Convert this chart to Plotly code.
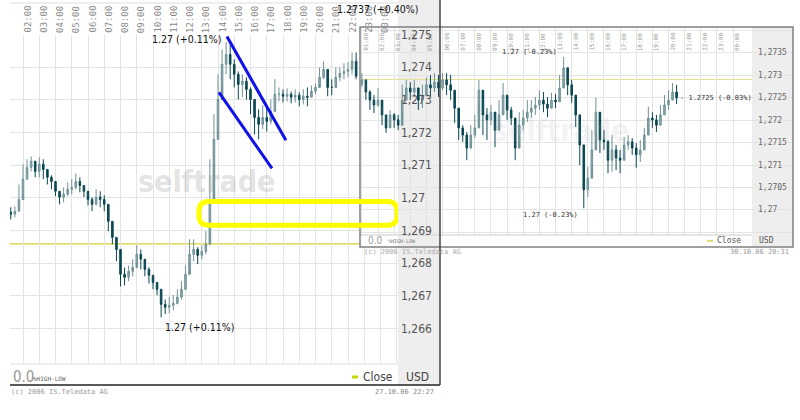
import plotly.graph_objects as go

# ---------------- left chart : EUR/USD 27.10.06 (15-min bars) ----------------
left_first_hour = 1.25
bar_step = 0.25
left_close = [1.26950, 1.26959, 1.26995, 1.27057, 1.27093, 1.27112, 1.27081, 1.27103, 1.27087, 1.27063,
              1.27050, 1.27020, 1.27002, 1.27011, 1.27026, 1.27032, 1.27050, 1.27038, 1.27020, 1.26995,
              1.26980, 1.27002, 1.26995, 1.26980, 1.26928, 1.26879, 1.26842, 1.26766, 1.26757, 1.26775,
              1.26787, 1.26827, 1.26812, 1.26781, 1.26763, 1.26741, 1.26720, 1.26674, 1.26665, 1.26671,
              1.26677, 1.26696, 1.26720, 1.26766, 1.26827, 1.26842, 1.26824, 1.26836, 1.26858, 1.26995,
              1.27179, 1.27301, 1.27409, 1.27439, 1.27409, 1.27378, 1.27347, 1.27357, 1.27332, 1.27301,
              1.27246, 1.27225, 1.27246, 1.27234, 1.27265, 1.27317, 1.27317, 1.27311, 1.27317, 1.27308,
              1.27314, 1.27301, 1.27311, 1.27308, 1.27326, 1.27338, 1.27369, 1.27393, 1.27338, 1.27338,
              1.27369, 1.27381, 1.27387, 1.27393, 1.27418, 1.27372]
left_high = [1.26971, 1.26974, 1.27041, 1.27103, 1.27118, 1.27127, 1.27099, 1.27124, 1.27118, 1.27087,
             1.27069, 1.27038, 1.27020, 1.27032, 1.27047, 1.27057, 1.27075, 1.27063, 1.27038, 1.27014,
             1.27002, 1.27026, 1.27020, 1.27008, 1.26971, 1.26910, 1.26879, 1.26806, 1.26787, 1.26793,
             1.26812, 1.26855, 1.26842, 1.26800, 1.26787, 1.26763, 1.26738, 1.26702, 1.26689, 1.26696,
             1.26702, 1.26720, 1.26745, 1.26793, 1.26873, 1.26873, 1.26849, 1.26855, 1.26898, 1.27118,
             1.27256, 1.27378, 1.27454, 1.27476, 1.27470, 1.27424, 1.27387, 1.27378, 1.27369, 1.27338,
             1.27286, 1.27271, 1.27283, 1.27277, 1.27301, 1.27363, 1.27338, 1.27332, 1.27335, 1.27326,
             1.27332, 1.27323, 1.27332, 1.27338, 1.27344, 1.27350, 1.27399, 1.27418, 1.27357, 1.27363,
             1.27399, 1.27399, 1.27412, 1.27415, 1.27445, 1.27445]
left_low = [1.26934, 1.26940, 1.26959, 1.27011, 1.27057, 1.27081, 1.27063, 1.27063, 1.27057, 1.27041,
            1.27026, 1.27005, 1.26980, 1.26986, 1.27005, 1.27011, 1.27026, 1.27017, 1.27002, 1.26977,
            1.26959, 1.26977, 1.26971, 1.26959, 1.26898, 1.26858, 1.26806, 1.26729, 1.26732, 1.26745,
            1.26760, 1.26800, 1.26781, 1.26760, 1.26738, 1.26720, 1.26702, 1.26634, 1.26644, 1.26647,
            1.26656, 1.26674, 1.26689, 1.26726, 1.26797, 1.26806, 1.26797, 1.26812, 1.26827, 1.26888,
            1.27103, 1.27210, 1.27347, 1.27378, 1.27363, 1.27338, 1.27301, 1.27308, 1.27301, 1.27256,
            1.27194, 1.27179, 1.27210, 1.27203, 1.27225, 1.27271, 1.27295, 1.27292, 1.27295, 1.27289,
            1.27292, 1.27280, 1.27286, 1.27280, 1.27308, 1.27317, 1.27347, 1.27363, 1.27311, 1.27314,
            1.27344, 1.27357, 1.27363, 1.27369, 1.27378, 1.27363]
left_first_open = 1.26956
left_prev_close = 1.26859
left_hour_ticks = list(range(1, 25))
left_hour_labels = ["01:00", "02:00", "03:00", "04:00", "05:00", "06:00", "07:00", "08:00",
                    "09:00", "10:00", "11:00", "12:00", "13:00", "14:00", "15:00", "16:00",
                    "17:00", "18:00", "19:00", "20:00", "21:00", "22:00", "23:00", "00:00"]
left_price_ticks = [1.266, 1.267, 1.268, 1.269, 1.270, 1.271, 1.272, 1.273, 1.274, 1.275]
left_price_labels = ["1,266", "1,267", "1,268", "1,269", "1,27", "1,271", "1,272", "1,273", "1,274", "1,275"]
left_high_text = "1.27 (+0.11%)"
left_low_text = "1.27 (+0.11%)"
left_last_text = "1.2737 (+0.40%)"

# ---------------- right chart : EUR/USD 30.10.06 (15-min bars) ----------------
right_first_hour = 1.0
right_close = [1.27290, 1.27263, 1.27245, 1.27234, 1.27245, 1.27212, 1.27183, 1.27212, 1.27201, 1.27189,
               1.27245, 1.27272, 1.27263, 1.27272, 1.27245, 1.27256, 1.27279, 1.27272, 1.27285, 1.27272,
               1.27290, 1.27279, 1.27267, 1.27227, 1.27183, 1.27167, 1.27138, 1.27167, 1.27183, 1.27267,
               1.27212, 1.27201, 1.27218, 1.27178, 1.27212, 1.27256, 1.27223, 1.27205, 1.27138, 1.27189,
               1.27205, 1.27218, 1.27227, 1.27234, 1.27245, 1.27236, 1.27227, 1.27245, 1.27241, 1.27272,
               1.27317, 1.27279, 1.27256, 1.27212, 1.27145, 1.27045, 1.27071, 1.27134, 1.27218, 1.27156,
               1.27152, 1.27111, 1.27134, 1.27116, 1.27111, 1.27145, 1.27152, 1.27138, 1.27123, 1.27134,
               1.27167, 1.27205, 1.27201, 1.27189, 1.27212, 1.27234, 1.27245, 1.27263, 1.27250]
right_high = [1.27305, 1.27283, 1.27267, 1.27256, 1.27272, 1.27234, 1.27212, 1.27223, 1.27216, 1.27212,
              1.27279, 1.27290, 1.27285, 1.27290, 1.27267, 1.27279, 1.27296, 1.27301, 1.27305, 1.27301,
              1.27305, 1.27305, 1.27301, 1.27267, 1.27205, 1.27189, 1.27174, 1.27189, 1.27212, 1.27290,
              1.27245, 1.27227, 1.27234, 1.27207, 1.27245, 1.27283, 1.27245, 1.27230, 1.27189, 1.27218,
              1.27223, 1.27245, 1.27245, 1.27252, 1.27267, 1.27263, 1.27252, 1.27261, 1.27259, 1.27301,
              1.27341, 1.27308, 1.27290, 1.27245, 1.27189, 1.27111, 1.27096, 1.27178, 1.27250, 1.27189,
              1.27178, 1.27156, 1.27167, 1.27145, 1.27134, 1.27163, 1.27167, 1.27160, 1.27149, 1.27156,
              1.27183, 1.27230, 1.27218, 1.27212, 1.27234, 1.27256, 1.27267, 1.27283, 1.27279]
right_low = [1.27274, 1.27245, 1.27223, 1.27216, 1.27230, 1.27189, 1.27172, 1.27194, 1.27183, 1.27178,
             1.27218, 1.27245, 1.27245, 1.27252, 1.27223, 1.27227, 1.27261, 1.27252, 1.27263, 1.27252,
             1.27267, 1.27256, 1.27245, 1.27194, 1.27156, 1.27152, 1.27111, 1.27145, 1.27160, 1.27234,
             1.27167, 1.27156, 1.27189, 1.27140, 1.27189, 1.27223, 1.27201, 1.27189, 1.27111, 1.27167,
             1.27178, 1.27196, 1.27205, 1.27212, 1.27223, 1.27218, 1.27207, 1.27230, 1.27227, 1.27252,
             1.27283, 1.27256, 1.27239, 1.27185, 1.27100, 1.27004, 1.27029, 1.27096, 1.27178, 1.27127,
             1.27134, 1.27082, 1.27085, 1.27089, 1.27082, 1.27123, 1.27134, 1.27123, 1.27094, 1.27107,
             1.27138, 1.27178, 1.27183, 1.27174, 1.27189, 1.27212, 1.27223, 1.27245, 1.27236]
right_first_open = 1.27280
right_prev_close = 1.27291
right_hour_ticks = list(range(1, 25))
right_hour_labels = left_hour_labels
right_price_ticks = [1.2700, 1.2705, 1.2710, 1.2715, 1.2720, 1.2725, 1.2730, 1.2735]
right_price_labels = ["1,27", "1,2705", "1,271", "1,2715", "1,272", "1,2725", "1,273", "1,2735"]
right_extreme_text = "1.27 (-0.23%)"
right_last_text = "- 1.2725 (-0.03%)"

# ---------------- styling ----------------
W, H = 800, 420
MONO = "DejaVu Sans Mono"
NARROW = "Liberation Sans Narrow, DejaVu Sans Condensed, Liberation Sans, sans-serif"
DARK = "#0b4853"
LIGHT = "#6f9297"
LIGHTFILL = "#8fabaf"
GRID = "#e4e4e4"
PANEL = "#eeeeee"

def px(x):
    return x / W

def py(y):
    return 1 - y / H

L_X_PX = (10, 398)
L_Y_PX = (363, 34.5)
L_XR = [1.2, 25.077]
L_YR = [1.264944, 1.275]
R_X_PX = (360, 793)
R_Y_PX = (247, 27)
R_XR = [0.885, 27.712]
R_YR = [1.269175, 1.274079]

def rx(pxv):  # pixel -> x2 units (for decorations only)
    return R_XR[0] + (pxv - R_X_PX[0]) / (R_X_PX[1] - R_X_PX[0]) * (R_XR[1] - R_XR[0])

left_hours = [left_first_hour + bar_step * i for i in range(len(left_close))]
left_open = [left_first_open] + left_close[:-1]
right_hours = [right_first_hour + bar_step * i for i in range(len(right_close))]
right_open = [right_first_open] + right_close[:-1]

fig = go.Figure()
for xs, o, hi, lo, c, xa, ya in [(left_hours, left_open, left_high, left_low, left_close, "x", "y"),
                                 (right_hours, right_open, right_high, right_low, right_close, "x2", "y2")]:
    fig.add_trace(go.Candlestick(
        x=xs, open=o, high=hi, low=lo, close=c,
        xaxis=xa, yaxis=ya, whiskerwidth=0, showlegend=False, hoverinfo="skip",
        increasing=dict(line=dict(color=LIGHT, width=1), fillcolor=LIGHTFILL),
        decreasing=dict(line=dict(color=DARK, width=1), fillcolor=DARK)))

shapes = []
shapes.append(dict(type="rect", xref="paper", yref="paper", x0=px(398), x1=px(440), y0=py(385), y1=1,
                   fillcolor=PANEL, line=dict(width=0), layer="below"))
shapes.append(dict(type="line", xref="paper", yref="paper", x0=px(10), x1=px(398), y0=py(3), y1=py(3),
                   line=dict(color="#dddddd", width=1), layer="below"))
shapes.append(dict(type="line", xref="paper", yref="paper", x0=px(10), x1=px(398), y0=py(364), y1=py(364),
                   line=dict(color="#dddddd", width=1), layer="below"))
shapes.append(dict(type="line", xref="x domain", yref="y", x0=0, x1=1, y0=left_prev_close, y1=left_prev_close,
                   line=dict(color="#c8c800", width=1), layer="below"))
shapes.append(dict(type="rect", xref="x2", yref="y2", x0=rx(398), x1=rx(440), y0=R_YR[0], y1=R_YR[1],
                   fillcolor=PANEL, line=dict(width=0), layer="below"))
shapes.append(dict(type="rect", xref="x2", yref="y2", x0=rx(752), x1=R_XR[1], y0=R_YR[0], y1=R_YR[1],
                   fillcolor=PANEL, line=dict(width=0), layer="below"))
shapes.append(dict(type="line", xref="x2", yref="y2", x0=rx(362), x1=rx(752), y0=right_prev_close, y1=right_prev_close,
                   line=dict(color="#e3e38a", width=1), layer="below"))
shapes.append(dict(type="rect", xref="paper", yref="paper", x0=px(360.5), x1=px(752), y0=py(246.5), y1=py(235.5),
                   fillcolor="white", line=dict(width=0), layer="above"))
shapes.append(dict(type="rect", xref="paper", yref="paper", x0=px(398), x1=px(440), y0=py(246.5), y1=py(235.5),
                   fillcolor=PANEL, line=dict(width=0), layer="above"))
shapes.append(dict(type="line", xref="paper", yref="paper", x0=px(360), x1=px(752), y0=py(235), y1=py(235),
                   line=dict(color="#cccccc", width=1), layer="above"))
shapes.append(dict(type="line", xref="paper", yref="paper", x0=px(10), x1=px(440), y0=py(385), y1=py(385),
                   line=dict(color="#222222", width=1.5), layer="above"))
shapes.append(dict(type="rect", xref="paper", yref="paper", x0=px(360), x1=px(793), y0=py(247), y1=py(27),
                   line=dict(color="#808080", width=1.5), layer="above"))
shapes.append(dict(type="line", xref="paper", yref="paper", x0=px(440), x1=px(440), y0=py(385), y1=1,
                   line=dict(color="#444444", width=1.5), layer="above"))
shapes.append(dict(type="line", xref="x", yref="y", x0=14.55, y0=1.27494, x1=18.18, y1=1.27176,
                   line=dict(color="#1010e8", width=3), layer="above"))
shapes.append(dict(type="line", xref="x", yref="y", x0=14.06, y0=1.27323, x1=17.32, y1=1.27090,
                   line=dict(color="#1010e8", width=3), layer="above"))
x0, x1, y0, y1 = 12.83, 25.02, 1.26916, 1.26989
rxr, ryr = 0.6, 0.0003
path = (f"M {x0+rxr},{y1} L {x1-rxr},{y1} Q {x1},{y1} {x1},{y1-ryr} L {x1},{y0+ryr} "
        f"Q {x1},{y0} {x1-rxr},{y0} L {x0+rxr},{y0} Q {x0},{y0} {x0},{y0+ryr} "
        f"L {x0},{y1-ryr} Q {x0},{y1} {x0+rxr},{y1} Z")
shapes.append(dict(type="path", xref="x", yref="y", path=path,
                   line=dict(color="#ffff00", width=5), layer="above"))
shapes.append(dict(type="line", xref="paper", yref="paper", x0=px(352), x1=px(358), y0=py(377), y1=py(377),
                   line=dict(color="#c8d400", width=3), layer="above"))
shapes.append(dict(type="line", xref="paper", yref="paper", x0=px(707), x1=px(713), y0=py(241), y1=py(241),
                   line=dict(color="#e0e070", width=2), layer="above"))

ann = []
def a(**k):
    k.setdefault("showarrow", False)
    ann.append(k)

a(x=px(206), y=py(181), xref="paper", yref="paper", text="<b>selftrade</b>", xanchor="center", yanchor="middle",
  font=dict(family=NARROW, size=30, color="rgba(160,160,160,0.30)"))
a(x=px(560), y=py(130), xref="paper", yref="paper", text="<b>selftrade</b>", xanchor="center", yanchor="middle",
  font=dict(family=NARROW, size=30, color="rgba(160,160,160,0.15)"))

for h, lab in zip(left_hour_ticks, left_hour_labels):
    a(x=h, xref="x", y=py(4), yref="paper", text=lab, textangle=-90, xanchor="center", yanchor="top",
      xshift=5, font=dict(family=MONO, size=9, color="#8a8a8a"))
for h, lab in zip(right_hour_ticks, right_hour_labels):
    a(x=h, xref="x2", y=py(31), yref="paper", text=lab, textangle=-90, xanchor="center", yanchor="top",
      xshift=4, font=dict(family=MONO, size=6, color="#9a9a9a"))

for v, lab in zip(left_price_ticks, left_price_labels):
    a(x=px(399), xref="paper", y=v, yref="y", text=lab, xanchor="left", yanchor="middle",
      font=dict(family=NARROW, size=12, color="#555555"))
for v, lab in zip(right_price_ticks, right_price_labels):
    a(x=px(756), xref="paper", y=v, yref="y2", text=lab, xanchor="left", yanchor="middle",
      font=dict(family=MONO, size=8, color="#666666"))

ih = left_high.index(max(left_high))
il = left_low.index(min(left_low))
a(x=left_hours[ih], xref="x", y=left_high[ih], yref="y", text=left_high_text, xanchor="right", yanchor="middle",
  xshift=-3, yshift=3, font=dict(family=NARROW, size=10.5, color="#111111"))
a(x=left_hours[il], xref="x", y=left_low[il], yref="y", text=left_low_text, xanchor="left", yanchor="top",
  xshift=2, yshift=-2, font=dict(family=NARROW, size=10.5, color="#111111"))
a(x=px(335), xref="paper", y=py(9), yref="paper", text=left_last_text, xanchor="left", yanchor="middle",
  font=dict(family=NARROW, size=10.5, color="#111111"))
rh = right_high.index(max(right_high))
rl = right_low.index(min(right_low))
a(x=right_hours[rh], xref="x2", y=right_high[rh], yref="y2", text=right_extreme_text, xanchor="right",
  yanchor="middle", xshift=-5, yshift=5, font=dict(family=MONO, size=7, color="#333333"))
a(x=right_hours[rl], xref="x2", y=right_low[rl], yref="y2", text=right_extreme_text, xanchor="right",
  yanchor="top", xshift=-4, yshift=-1, font=dict(family=MONO, size=7, color="#333333"))
a(x=right_hours[-1], xref="x2", y=right_close[-1], yref="y2", text=right_last_text, xanchor="left",
  yanchor="middle", xshift=1, font=dict(family=MONO, size=7, color="#333333"))

a(x=px(11), y=py(377), xref="paper", yref="paper", text="0.0", xanchor="left", yanchor="middle",
  font=dict(family=NARROW, size=15, color="#9a9a9a"))
a(x=px(31), y=py(378), xref="paper", yref="paper", text="%HIGH-LOW", xanchor="left", yanchor="middle",
  font=dict(family=MONO, size=6, color="#666666"))
a(x=px(361), y=py(377), xref="paper", yref="paper", text="Close", xanchor="left", yanchor="middle",
  font=dict(family=NARROW, size=12, color="#444444"))
a(x=px(404), y=py(377), xref="paper", yref="paper", text="USD", xanchor="left", yanchor="middle",
  font=dict(family=NARROW, size=12, color="#444444"))
a(x=px(366), y=py(241), xref="paper", yref="paper", text="0.0", xanchor="left", yanchor="middle",
  font=dict(family=NARROW, size=10, color="#9a9a9a"))
a(x=px(386), y=py(241.5), xref="paper", yref="paper", text="%HIGH-LOW", xanchor="left", yanchor="middle",
  font=dict(family=MONO, size=5, color="#777777"))
a(x=px(715), y=py(241), xref="paper", yref="paper", text="Close", xanchor="left", yanchor="middle",
  font=dict(family=MONO, size=8, color="#555555"))
a(x=px(757), y=py(241), xref="paper", yref="paper", text="USD", xanchor="left", yanchor="middle",
  font=dict(family=MONO, size=8, color="#555555"))

a(x=px(9), y=py(392), xref="paper", yref="paper", text="(c) 2006 IS.Teledata AG", xanchor="left",
  yanchor="middle", font=dict(family=MONO, size=7, color="#999999"))
a(x=px(436), y=py(392), xref="paper", yref="paper", text="27.10.06 22:27", xanchor="right",
  yanchor="middle", font=dict(family=MONO, size=7, color="#888888"))
a(x=px(362), y=py(251.5), xref="paper", yref="paper", text="(c) 2006 IS.Teledata AG", xanchor="left",
  yanchor="middle", font=dict(family=MONO, size=7, color="#aaaaaa"))
a(x=px(791), y=py(251.5), xref="paper", yref="paper", text="30.10.06 20:31", xanchor="right",
  yanchor="middle", font=dict(family=MONO, size=7, color="#999999"))

axis_common = dict(showticklabels=False, ticks="", zeroline=False, showline=False,
                   gridcolor=GRID, gridwidth=1, fixedrange=True)
fig.update_layout(
    width=W, height=H, margin=dict(l=0, r=0, t=0, b=0),
    paper_bgcolor="white", plot_bgcolor="white", showlegend=False, boxgap=0.45,
    xaxis=dict(domain=[px(L_X_PX[0]), px(L_X_PX[1])], range=L_XR, tickvals=left_hour_ticks[1:] + [25],
               anchor="y", rangeslider=dict(visible=False), **axis_common),
    yaxis=dict(domain=[py(L_Y_PX[0]), py(L_Y_PX[1])], range=L_YR, tickvals=left_price_ticks,
               anchor="x", **axis_common),
    xaxis2=dict(domain=[px(R_X_PX[0]), px(R_X_PX[1])], range=R_XR, tickvals=right_hour_ticks,
                anchor="y2", rangeslider=dict(visible=False), **axis_common),
    yaxis2=dict(domain=[py(R_Y_PX[0]), py(R_Y_PX[1])], range=R_YR, dtick=0.0005, tick0=1.27,
                anchor="x2", **axis_common),
    shapes=shapes, annotations=ann,
)
fig.write_html("out.html", config={"displayModeBar": False},
               post_script="document.body.style.margin='0';document.body.style.overflow='hidden';")
